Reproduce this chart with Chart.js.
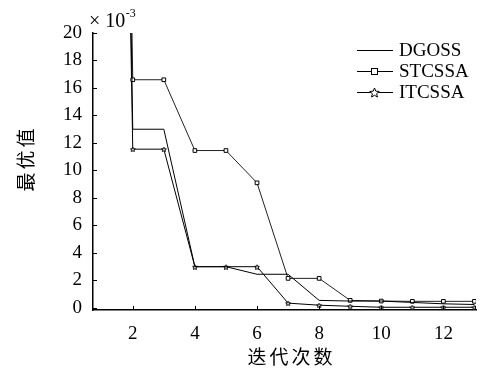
<!DOCTYPE html>
<html>
<head>
<meta charset="utf-8">
<script src="https://cdn.jsdelivr.net/npm/chart.js@4.4.1/dist/chart.umd.min.js"></script>
<style>
  html, body { margin: 0; padding: 0; background: #fff; }
  #wrap { width: 481px; height: 372px; }
</style>
</head>
<body>
<div id="wrap"><canvas id="chart" width="481" height="372"></canvas></div>
<script>
  // iterations (x = 1 is far above the visible range)
  const iterations = [1, 2, 3, 4, 5, 6, 7, 8, 9, 10, 11, 12, 13];
  const dgoss = [150, 13.0, 13.0, 3.0, 3.0, 2.45, 2.45, 0.55, 0.5, 0.5, 0.4, 0.3, 0.25];
  const stcssa = [160, 16.6, 16.6, 11.45, 11.45, 9.1, 2.15, 2.15, 0.55, 0.5, 0.48, 0.48, 0.48];
  const itcssa = [140, 11.55, 11.55, 3.0, 3.0, 3.0, 0.35, 0.2, 0.12, 0.05, 0.05, 0.05, 0.05];
  const xTicks = [2, 4, 6, 8, 10, 12];
  const yTicks = [0, 2, 4, 6, 8, 10, 12, 14, 16, 18, 20];

  const serif = "'Liberation Serif', 'DejaVu Serif', serif";
  const cjk = "'Noto Sans CJK SC', sans-serif";

  function starCanvas(size) {
    const c = document.createElement('canvas');
    c.width = size;
    c.height = size;
    const g = c.getContext('2d');
    const cx = size / 2;
    const cy = size / 2 + 0.5;
    const outer = size / 2 - 0.5;
    const inner = outer * 0.45;
    g.beginPath();
    for (let i = 0; i < 10; i++) {
      const r = i % 2 === 0 ? outer : inner;
      const a = -Math.PI / 2 + (i * Math.PI) / 5;
      const px = cx + r * Math.cos(a);
      const py = cy + r * Math.sin(a);
      if (i === 0) g.moveTo(px, py);
      else g.lineTo(px, py);
    }
    g.closePath();
    g.fillStyle = '#fff';
    g.fill();
    g.strokeStyle = '#000';
    g.lineWidth = 1;
    g.stroke();
    return c;
  }

  const smallStar = starCanvas(6);
  const bigStar = starCanvas(11);

  const toPoints = (arr) => iterations.map((x, i) => ({ x, y: arr[i] }));

  const decorations = {
    id: 'decorations',
    afterDraw(chart) {
      const { ctx, scales } = chart;
      const xs = scales.x;
      const ys = scales.y;
      const area = chart.chartArea;
      ctx.save();
      ctx.strokeStyle = '#000';
      ctx.lineWidth = 1;
      // inward tick marks
      ctx.beginPath();
      yTicks.forEach((v) => {
        const py = Math.round(ys.getPixelForValue(v)) + 0.5;
        ctx.moveTo(area.left, py);
        ctx.lineTo(area.left + 4, py);
      });
      xTicks.forEach((v) => {
        const px = Math.round(xs.getPixelForValue(v)) + 0.5;
        ctx.moveTo(px, area.bottom);
        ctx.lineTo(px, area.bottom - 4);
      });
      ctx.moveTo(area.right - 0.5, area.bottom);
      ctx.lineTo(area.right - 0.5, area.bottom - 4);
      ctx.stroke();

      // exponent label
      ctx.fillStyle = '#000';
      ctx.textBaseline = 'alphabetic';
      ctx.textAlign = 'left';
      ctx.font = `20px ${serif}`;
      const base = '\u00d7 10';
      ctx.fillText(base, 89, 27);
      const supX = 89 + ctx.measureText(base).width + 0.5;
      ctx.font = `12px ${serif}`;
      ctx.fillText('-3', supX, 17);

      // axis titles
      ctx.font = `19px ${cjk}`;
      ctx.textAlign = 'center';
      ctx.textBaseline = 'middle';
      const step = 22;
      [...'迭代次数'].forEach((ch, i) => {
        ctx.fillText(ch, 257 + i * step, 357);
      });
      ctx.save();
      ctx.translate(26, 160);
      ctx.rotate(-Math.PI / 2);
      [...'最优值'].forEach((ch, i) => {
        ctx.fillText(ch, (i - 1) * step, 0);
      });
      ctx.restore();

      // legend
      const rows = [
        { label: 'DGOSS', marker: null, y: 50 },
        { label: 'STCSSA', marker: 'square', y: 71 },
        { label: 'ITCSSA', marker: 'star', y: 92 },
      ];
      ctx.font = `19px ${serif}`;
      ctx.textAlign = 'left';
      rows.forEach((row) => {
        ctx.beginPath();
        ctx.moveTo(357, row.y + 0.5);
        ctx.lineTo(393, row.y + 0.5);
        ctx.stroke();
        if (row.marker === 'square') {
          ctx.fillStyle = '#fff';
          ctx.fillRect(371, row.y - 3, 7, 7);
          ctx.strokeRect(371.5, row.y - 2.5, 6, 6);
        } else if (row.marker === 'star') {
          ctx.drawImage(bigStar, 369, row.y - 5);
        }
        ctx.fillStyle = '#000';
        ctx.fillText(row.label, 399, row.y + 1);
      });
      ctx.restore();
    },
  };

  const lineBase = {
    borderColor: '#000',
    borderWidth: 1,
    tension: 0,
    fill: false,
  };

  // eslint-disable-next-line no-new
  new Chart(document.getElementById('chart').getContext('2d'), {
    type: 'line',
    data: {
      datasets: [
        {
          ...lineBase,
          label: 'DGOSS',
          data: toPoints(dgoss),
          pointRadius: 0,
        },
        {
          ...lineBase,
          label: 'STCSSA',
          data: toPoints(stcssa),
          borderColor: '#222',
          pointStyle: 'rect',
          pointRadius: 2.6,
          pointBorderWidth: 1,
          pointBorderColor: '#000',
          pointBackgroundColor: '#fff',
        },
        {
          ...lineBase,
          label: 'ITCSSA',
          data: toPoints(itcssa),
          pointStyle: smallStar,
          pointRadius: 3,
        },
      ],
    },
    options: {
      responsive: false,
      animation: false,
      layout: { padding: { top: 33, right: 4, left: 0, bottom: 0 } },
      plugins: {
        legend: { display: false },
        tooltip: { enabled: false },
      },
      scales: {
        x: {
          type: 'linear',
          min: 0.72,
          max: 13.05,
          afterBuildTicks: (scale) => {
            scale.ticks = xTicks.map((value) => ({ value }));
          },
          afterFit: (scale) => {
            scale.height = 62;
          },
          grid: { display: false, drawTicks: false },
          border: { display: true, color: '#000', width: 1.5 },
          ticks: {
            color: '#000',
            padding: 13,
            font: { family: serif, size: 19 },
            maxRotation: 0,
          },
        },
        y: {
          type: 'linear',
          min: -0.15,
          max: 20,
          afterBuildTicks: (scale) => {
            scale.ticks = yTicks.map((value) => ({ value }));
          },
          afterFit: (scale) => {
            scale.width = 93;
          },
          grid: { display: false, drawTicks: false },
          border: { display: true, color: '#000', width: 1.5 },
          ticks: {
            color: '#000',
            padding: 11,
            font: { family: serif, size: 19 },
          },
        },
      },
    },
    plugins: [decorations],
  });
</script>
</body>
</html>
